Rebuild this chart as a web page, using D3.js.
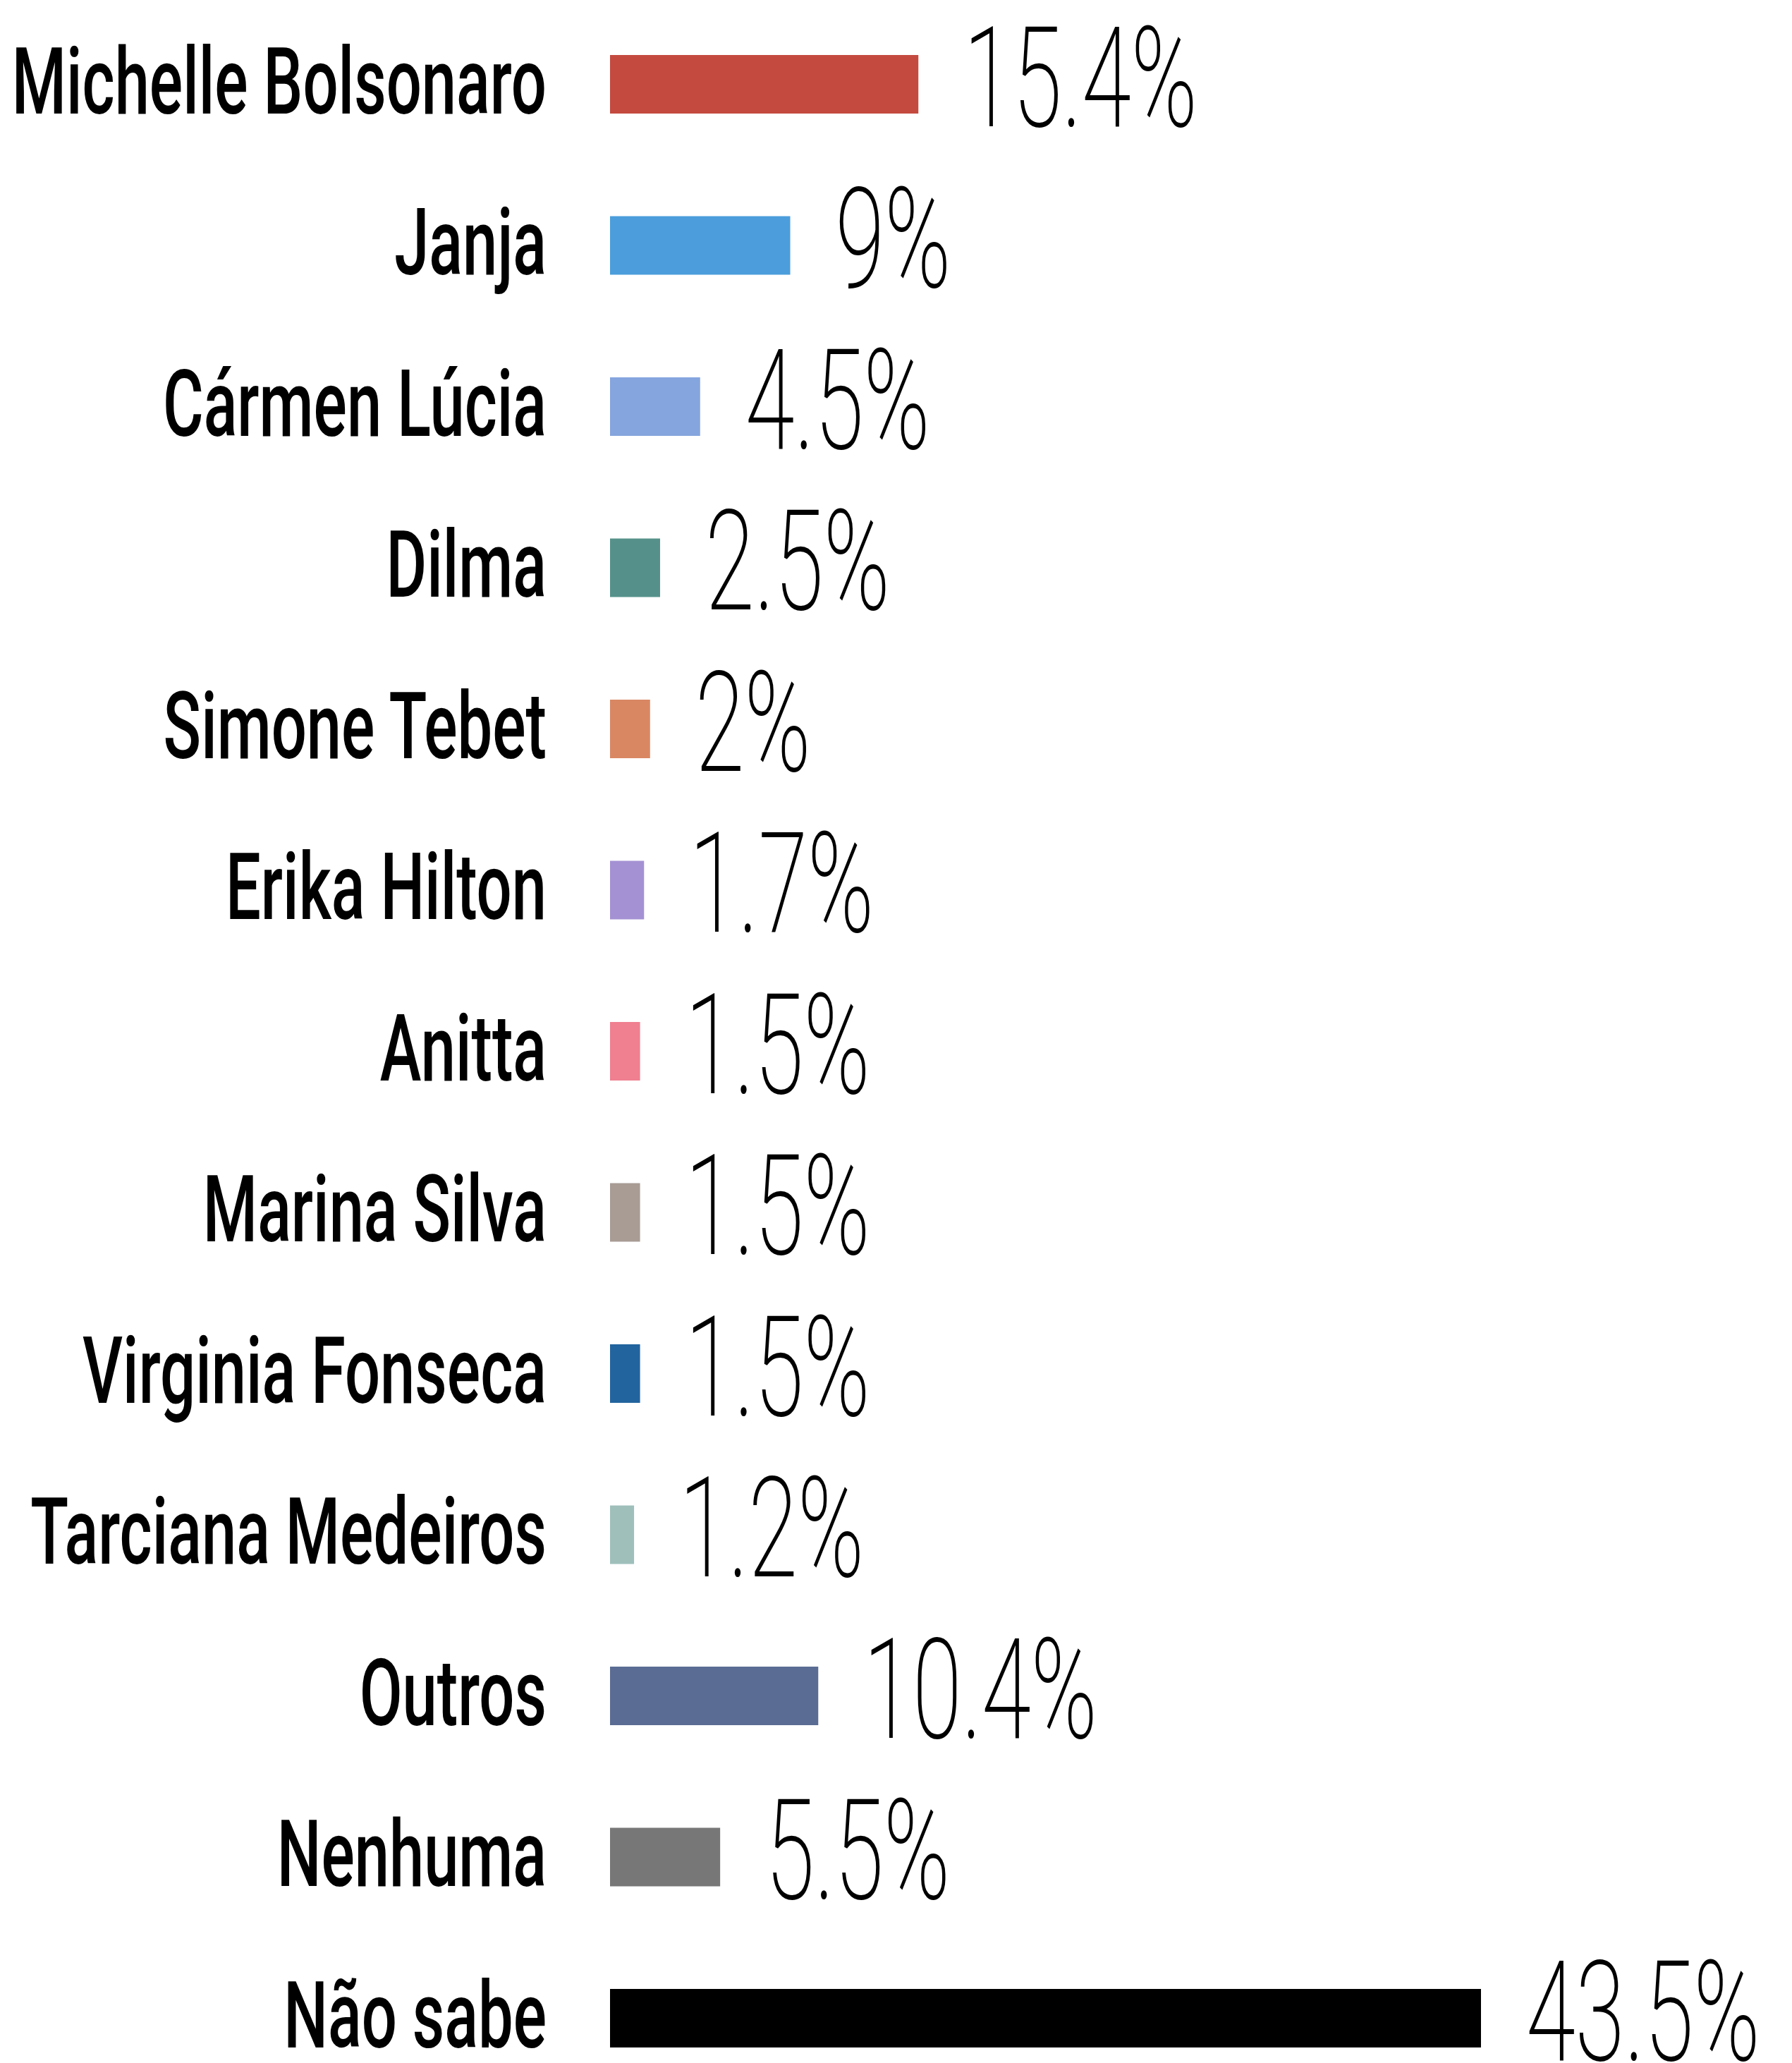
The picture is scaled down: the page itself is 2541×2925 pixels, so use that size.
<!DOCTYPE html>
<html>
<head>
<meta charset="utf-8">
<script src="https://cdn.jsdelivr.net/npm/d3@7"></script>
<style>
  body { margin: 0; background: #ffffff; }
  .label { font-family: Roboto, sans-serif; font-weight: 500; fill: #000; }
  .value { font-family: Roboto, sans-serif; font-weight: 200; fill: #000; }
</style>
</head>
<body>
<div id="chart"></div>
<script>
(function() {
  // data
  var names = ['Michelle Bolsonaro', 'Janja', 'Cármen Lúcia', 'Dilma', 'Simone Tebet',
    'Erika Hilton', 'Anitta', 'Marina Silva', 'Virginia Fonseca', 'Tarciana Medeiros',
    'Outros', 'Nenhuma', 'Não sabe']
  var values = [15.4, 9, 4.5, 2.5, 2, 1.7, 1.5, 1.5, 1.5, 1.2, 10.4, 5.5, 43.5]
  var valueLabels = ['15.4%', '9%', '4.5%', '2.5%', '2%', '1.7%', '1.5%', '1.5%', '1.5%',
    '1.2%', '10.4%', '5.5%', '43.5%']
  var colors = ['#c44a3f', '#4b9edb', '#85a5de', '#55918a', '#d98763', '#a491d4',
    '#f07f90', '#a89c95', '#22649e', '#9fbfbb', '#5a6c93', '#777777', '#000000']

  var datapoints = names.map(function(d, i) {
    return { name: d, value: values[i], label: valueLabels[i], color: colors[i] }
  })

  var width = 2541,
      height = 2925

  var svg = d3.select('#chart')
    .append('svg')
    .attr('width', width)
    .attr('height', height)

  var barLeft = 865,
      barHeight = 83,
      labelRight = 775

  var xScale = d3.scaleLinear().domain([0, 43.5]).range([barLeft, barLeft + 1235])

  var yScale = d3.scalePoint().domain(names).range([119.5, 2861.5])

  svg.selectAll('rect.bar')
    .data(datapoints)
    .enter().append('rect')
    .attr('class', 'bar')
    .attr('x', xScale(0))
    .attr('y', function(d) { return yScale(d.name) - barHeight / 2 })
    .attr('width', function(d) { return xScale(d.value) - xScale(0) })
    .attr('height', barHeight)
    .attr('fill', function(d) { return d.color })

  // category names, squeezed to a condensed look
  svg.selectAll('g.label')
    .data(datapoints)
    .enter().append('g')
    .attr('class', 'label')
    .attr('transform', function(d) {
      return 'translate(' + labelRight + ',' + (yScale(d.name) + 41) + ') scale(0.675,1)'
    })
    .append('text')
    .attr('text-anchor', 'end')
    .attr('font-size', 131)
    .text(function(d) { return d.name })

  // percentages
  svg.selectAll('g.value')
    .data(datapoints)
    .enter().append('g')
    .attr('class', 'value')
    .attr('transform', function(d) {
      return 'translate(' + (xScale(d.value) + 64) + ',' + (yScale(d.name) + 59) + ') scale(0.64,1)'
    })
    .append('text')
    .attr('font-size', 198)
    .text(function(d) { return d.label })
})()
</script>
</body>
</html>
